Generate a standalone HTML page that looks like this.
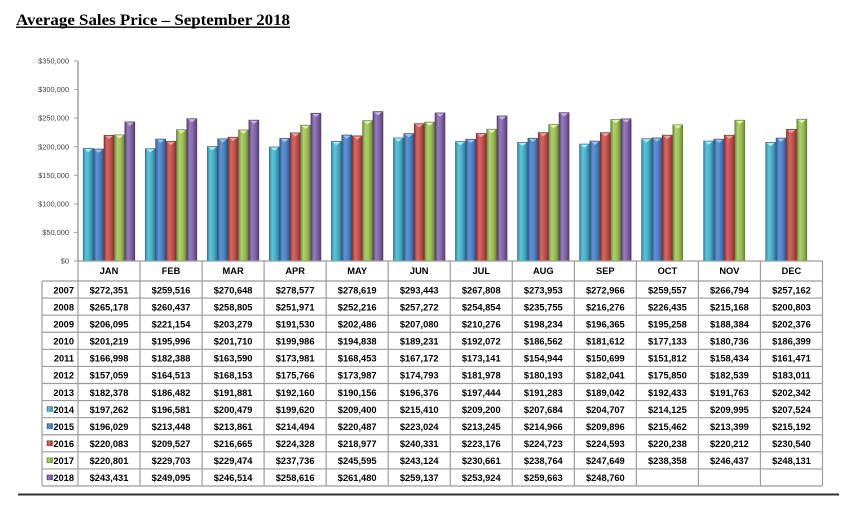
<!DOCTYPE html>
<html><head><meta charset="utf-8"><style>
html,body{margin:0;padding:0;background:#fff;}
svg{display:block;}
</style></head><body>
<svg width="853" height="513" viewBox="0 0 853 513" xmlns="http://www.w3.org/2000/svg">
<defs>
<linearGradient id="gT" x1="0" x2="1" y1="0" y2="0"><stop offset="0" stop-color="#2a8ba3"/><stop offset="0.3" stop-color="#62c2da"/><stop offset="0.65" stop-color="#4BACC6"/><stop offset="1" stop-color="#2b7c92"/></linearGradient>
<linearGradient id="gB" x1="0" x2="1" y1="0" y2="0"><stop offset="0" stop-color="#2f5f96"/><stop offset="0.3" stop-color="#6393d2"/><stop offset="0.65" stop-color="#4F81BD"/><stop offset="1" stop-color="#2e5a8c"/></linearGradient>
<linearGradient id="gR" x1="0" x2="1" y1="0" y2="0"><stop offset="0" stop-color="#8e3532"/><stop offset="0.3" stop-color="#d26a66"/><stop offset="0.65" stop-color="#C0504D"/><stop offset="1" stop-color="#8a3330"/></linearGradient>
<linearGradient id="gG" x1="0" x2="1" y1="0" y2="0"><stop offset="0" stop-color="#6f8c38"/><stop offset="0.3" stop-color="#afcf71"/><stop offset="0.65" stop-color="#9BBB59"/><stop offset="1" stop-color="#6b8634"/></linearGradient>
<linearGradient id="gP" x1="0" x2="1" y1="0" y2="0"><stop offset="0" stop-color="#5a4278"/><stop offset="0.3" stop-color="#977dba"/><stop offset="0.65" stop-color="#8064A2"/><stop offset="1" stop-color="#563f73"/></linearGradient>
<polygon id="cT" points="1,0.6 9,0.6 5,3.8" fill="#a5ecf8"/>
<polygon id="cB" points="1,0.6 9,0.6 5,3.8" fill="#9cc3f0"/>
<polygon id="cR" points="1,0.6 9,0.6 5,3.8" fill="#f0a09c"/>
<polygon id="cG" points="1,0.6 9,0.6 5,3.8" fill="#def5a8"/>
<polygon id="cP" points="1,0.6 9,0.6 5,3.8" fill="#c6b0e6"/>
</defs>

<!-- Title -->
<text x="16" y="25" font-family="Liberation Serif, serif" font-weight="bold" font-size="15.5" textLength="274" lengthAdjust="spacingAndGlyphs" fill="#000">Average Sales Price – September 2018</text>
<line x1="16" y1="27.2" x2="290" y2="27.2" stroke="#000" stroke-width="1.3"/>

<!-- Y axis -->
<line x1="78" y1="61" x2="78" y2="261" stroke="#a0a0a0" stroke-width="1.5"/>
<g stroke="#a0a0a0" stroke-width="1">
<line x1="74" y1="61" x2="78" y2="61"/><line x1="74" y1="89.6" x2="78" y2="89.6"/><line x1="74" y1="118.1" x2="78" y2="118.1"/><line x1="74" y1="146.7" x2="78" y2="146.7"/><line x1="74" y1="175.3" x2="78" y2="175.3"/><line x1="74" y1="203.9" x2="78" y2="203.9"/><line x1="74" y1="232.4" x2="78" y2="232.4"/><line x1="74" y1="261" x2="78" y2="261"/>
</g>
<g font-family="Liberation Sans, sans-serif" font-size="7.4" fill="#404040" text-anchor="end">
<text x="69" y="63.6">$350,000</text>
<text x="69" y="92.2">$300,000</text>
<text x="69" y="120.7">$250,000</text>
<text x="69" y="149.3">$200,000</text>
<text x="69" y="177.9">$150,000</text>
<text x="69" y="206.5">$100,000</text>
<text x="69" y="235">$50,000</text>
<text x="69" y="263.6">$0</text>
</g>

<!-- Bars -->
<g stroke-width="0.6">
<!-- JAN -->
<rect x="83.2" y="148.28" width="10" height="112.72" fill="url(#gT)" stroke="#2a7488"/><use href="#cT" x="83.2" y="148.28"/>
<rect x="93.6" y="148.98" width="10" height="112.02" fill="url(#gB)" stroke="#2a5282"/><use href="#cB" x="93.6" y="148.98"/>
<rect x="104.0" y="135.24" width="10" height="125.76" fill="url(#gR)" stroke="#7a2e2b"/><use href="#cR" x="104.0" y="135.24"/>
<rect x="114.4" y="134.83" width="10" height="126.17" fill="url(#gG)" stroke="#5e7a2e"/><use href="#cG" x="114.4" y="134.83"/>
<rect x="124.8" y="121.9" width="10" height="139.1" fill="url(#gP)" stroke="#4c3766"/><use href="#cP" x="124.8" y="121.9"/>
<!-- FEB -->
<rect x="145.24" y="148.67" width="10" height="112.33" fill="url(#gT)" stroke="#2a7488"/><use href="#cT" x="145.24" y="148.67"/>
<rect x="155.64" y="139.03" width="10" height="121.97" fill="url(#gB)" stroke="#2a5282"/><use href="#cB" x="155.64" y="139.03"/>
<rect x="166.04" y="141.27" width="10" height="119.73" fill="url(#gR)" stroke="#7a2e2b"/><use href="#cR" x="166.04" y="141.27"/>
<rect x="176.44" y="129.74" width="10" height="131.26" fill="url(#gG)" stroke="#5e7a2e"/><use href="#cG" x="176.44" y="129.74"/>
<rect x="186.84" y="118.66" width="10" height="142.34" fill="url(#gP)" stroke="#4c3766"/><use href="#cP" x="186.84" y="118.66"/>
<!-- MAR -->
<rect x="207.28" y="146.44" width="10" height="114.56" fill="url(#gT)" stroke="#2a7488"/><use href="#cT" x="207.28" y="146.44"/>
<rect x="217.68" y="138.79" width="10" height="122.21" fill="url(#gB)" stroke="#2a5282"/><use href="#cB" x="217.68" y="138.79"/>
<rect x="228.08" y="137.19" width="10" height="123.81" fill="url(#gR)" stroke="#7a2e2b"/><use href="#cR" x="228.08" y="137.19"/>
<rect x="238.48" y="129.87" width="10" height="131.13" fill="url(#gG)" stroke="#5e7a2e"/><use href="#cG" x="238.48" y="129.87"/>
<rect x="248.88" y="120.13" width="10" height="140.87" fill="url(#gP)" stroke="#4c3766"/><use href="#cP" x="248.88" y="120.13"/>
<!-- APR -->
<rect x="269.32" y="146.93" width="10" height="114.07" fill="url(#gT)" stroke="#2a7488"/><use href="#cT" x="269.32" y="146.93"/>
<rect x="279.72" y="138.43" width="10" height="122.57" fill="url(#gB)" stroke="#2a5282"/><use href="#cB" x="279.72" y="138.43"/>
<rect x="290.12" y="132.81" width="10" height="128.19" fill="url(#gR)" stroke="#7a2e2b"/><use href="#cR" x="290.12" y="132.81"/>
<rect x="300.52" y="125.15" width="10" height="135.85" fill="url(#gG)" stroke="#5e7a2e"/><use href="#cG" x="300.52" y="125.15"/>
<rect x="310.92" y="113.22" width="10" height="147.78" fill="url(#gP)" stroke="#4c3766"/><use href="#cP" x="310.92" y="113.22"/>
<!-- MAY -->
<rect x="331.36" y="141.34" width="10" height="119.66" fill="url(#gT)" stroke="#2a7488"/><use href="#cT" x="331.36" y="141.34"/>
<rect x="341.76" y="135.01" width="10" height="125.99" fill="url(#gB)" stroke="#2a5282"/><use href="#cB" x="341.76" y="135.01"/>
<rect x="352.16" y="135.87" width="10" height="125.13" fill="url(#gR)" stroke="#7a2e2b"/><use href="#cR" x="352.16" y="135.87"/>
<rect x="362.56" y="120.66" width="10" height="140.34" fill="url(#gG)" stroke="#5e7a2e"/><use href="#cG" x="362.56" y="120.66"/>
<rect x="372.96" y="111.58" width="10" height="149.42" fill="url(#gP)" stroke="#4c3766"/><use href="#cP" x="372.96" y="111.58"/>
<!-- JUN -->
<rect x="393.4" y="137.91" width="10" height="123.09" fill="url(#gT)" stroke="#2a7488"/><use href="#cT" x="393.4" y="137.91"/>
<rect x="403.8" y="133.56" width="10" height="127.44" fill="url(#gB)" stroke="#2a5282"/><use href="#cB" x="403.8" y="133.56"/>
<rect x="414.2" y="123.67" width="10" height="137.33" fill="url(#gR)" stroke="#7a2e2b"/><use href="#cR" x="414.2" y="123.67"/>
<rect x="424.6" y="122.07" width="10" height="138.93" fill="url(#gG)" stroke="#5e7a2e"/><use href="#cG" x="424.6" y="122.07"/>
<rect x="435.0" y="112.92" width="10" height="148.08" fill="url(#gP)" stroke="#4c3766"/><use href="#cP" x="435.0" y="112.92"/>
<!-- JUL -->
<rect x="455.44" y="141.46" width="10" height="119.54" fill="url(#gT)" stroke="#2a7488"/><use href="#cT" x="455.44" y="141.46"/>
<rect x="465.84" y="139.15" width="10" height="121.85" fill="url(#gB)" stroke="#2a5282"/><use href="#cB" x="465.84" y="139.15"/>
<rect x="476.24" y="133.47" width="10" height="127.53" fill="url(#gR)" stroke="#7a2e2b"/><use href="#cR" x="476.24" y="133.47"/>
<rect x="486.64" y="129.19" width="10" height="131.81" fill="url(#gG)" stroke="#5e7a2e"/><use href="#cG" x="486.64" y="129.19"/>
<rect x="497.04" y="115.9" width="10" height="145.1" fill="url(#gP)" stroke="#4c3766"/><use href="#cP" x="497.04" y="115.9"/>
<!-- AUG -->
<rect x="517.48" y="142.32" width="10" height="118.68" fill="url(#gT)" stroke="#2a7488"/><use href="#cT" x="517.48" y="142.32"/>
<rect x="527.88" y="138.16" width="10" height="122.84" fill="url(#gB)" stroke="#2a5282"/><use href="#cB" x="527.88" y="138.16"/>
<rect x="538.28" y="132.59" width="10" height="128.41" fill="url(#gR)" stroke="#7a2e2b"/><use href="#cR" x="538.28" y="132.59"/>
<rect x="548.68" y="124.56" width="10" height="136.44" fill="url(#gG)" stroke="#5e7a2e"/><use href="#cG" x="548.68" y="124.56"/>
<rect x="559.08" y="112.62" width="10" height="148.38" fill="url(#gP)" stroke="#4c3766"/><use href="#cP" x="559.08" y="112.62"/>
<!-- SEP -->
<rect x="579.52" y="144.02" width="10" height="116.98" fill="url(#gT)" stroke="#2a7488"/><use href="#cT" x="579.52" y="144.02"/>
<rect x="589.92" y="141.06" width="10" height="119.94" fill="url(#gB)" stroke="#2a5282"/><use href="#cB" x="589.92" y="141.06"/>
<rect x="600.32" y="132.66" width="10" height="128.34" fill="url(#gR)" stroke="#7a2e2b"/><use href="#cR" x="600.32" y="132.66"/>
<rect x="610.72" y="119.49" width="10" height="141.51" fill="url(#gG)" stroke="#5e7a2e"/><use href="#cG" x="610.72" y="119.49"/>
<rect x="621.12" y="118.85" width="10" height="142.15" fill="url(#gP)" stroke="#4c3766"/><use href="#cP" x="621.12" y="118.85"/>
<!-- OCT -->
<rect x="641.56" y="138.64" width="10" height="122.36" fill="url(#gT)" stroke="#2a7488"/><use href="#cT" x="641.56" y="138.64"/>
<rect x="651.96" y="137.88" width="10" height="123.12" fill="url(#gB)" stroke="#2a5282"/><use href="#cB" x="651.96" y="137.88"/>
<rect x="662.36" y="135.15" width="10" height="125.85" fill="url(#gR)" stroke="#7a2e2b"/><use href="#cR" x="662.36" y="135.15"/>
<rect x="672.76" y="124.8" width="10" height="136.2" fill="url(#gG)" stroke="#5e7a2e"/><use href="#cG" x="672.76" y="124.8"/>
<!-- NOV -->
<rect x="703.6" y="141.0" width="10" height="120.0" fill="url(#gT)" stroke="#2a7488"/><use href="#cT" x="703.6" y="141.0"/>
<rect x="714.0" y="139.06" width="10" height="121.94" fill="url(#gB)" stroke="#2a5282"/><use href="#cB" x="714.0" y="139.06"/>
<rect x="724.4" y="135.16" width="10" height="125.84" fill="url(#gR)" stroke="#7a2e2b"/><use href="#cR" x="724.4" y="135.16"/>
<rect x="734.8" y="120.18" width="10" height="140.82" fill="url(#gG)" stroke="#5e7a2e"/><use href="#cG" x="734.8" y="120.18"/>
<!-- DEC -->
<rect x="765.64" y="142.41" width="10" height="118.59" fill="url(#gT)" stroke="#2a7488"/><use href="#cT" x="765.64" y="142.41"/>
<rect x="776.04" y="138.03" width="10" height="122.97" fill="url(#gB)" stroke="#2a5282"/><use href="#cB" x="776.04" y="138.03"/>
<rect x="786.44" y="129.26" width="10" height="131.74" fill="url(#gR)" stroke="#7a2e2b"/><use href="#cR" x="786.44" y="129.26"/>
<rect x="796.84" y="119.21" width="10" height="141.79" fill="url(#gG)" stroke="#5e7a2e"/><use href="#cG" x="796.84" y="119.21"/>
</g>

<!-- Table grid -->
<g stroke="#9c9c9c" stroke-width="1.2" fill="none">
<line x1="78" y1="261" x2="822.5" y2="261"/>
<line x1="42" y1="281" x2="822.5" y2="281"/>
<line x1="42" y1="298.08" x2="822.5" y2="298.08"/>
<line x1="42" y1="315.17" x2="822.5" y2="315.17"/>
<line x1="42" y1="332.25" x2="822.5" y2="332.25"/>
<line x1="42" y1="349.33" x2="822.5" y2="349.33"/>
<line x1="42" y1="366.42" x2="822.5" y2="366.42"/>
<line x1="42" y1="383.5" x2="822.5" y2="383.5"/>
<line x1="42" y1="400.58" x2="822.5" y2="400.58"/>
<line x1="42" y1="417.67" x2="822.5" y2="417.67"/>
<line x1="42" y1="434.75" x2="822.5" y2="434.75"/>
<line x1="42" y1="451.83" x2="822.5" y2="451.83"/>
<line x1="42" y1="468.92" x2="822.5" y2="468.92"/>
<line x1="42" y1="486" x2="822.5" y2="486"/>
<line x1="42" y1="281" x2="42" y2="486"/>
<line x1="78" y1="261" x2="78" y2="486"/>
<line x1="140.04" y1="261" x2="140.04" y2="486"/>
<line x1="202.08" y1="261" x2="202.08" y2="486"/>
<line x1="264.12" y1="261" x2="264.12" y2="486"/>
<line x1="326.16" y1="261" x2="326.16" y2="486"/>
<line x1="388.2" y1="261" x2="388.2" y2="486"/>
<line x1="450.24" y1="261" x2="450.24" y2="486"/>
<line x1="512.28" y1="261" x2="512.28" y2="486"/>
<line x1="574.32" y1="261" x2="574.32" y2="486"/>
<line x1="636.36" y1="261" x2="636.36" y2="486"/>
<line x1="698.4" y1="261" x2="698.4" y2="486"/>
<line x1="760.44" y1="261" x2="760.44" y2="486"/>
<line x1="822.48" y1="261" x2="822.48" y2="486"/>
</g>

<!-- Legend keys -->
<rect x="47" y="406.5" width="5.5" height="5" fill="url(#gT)" stroke="#2a7488" stroke-width="0.5"/>
<rect x="47" y="423.6" width="5.5" height="5" fill="url(#gB)" stroke="#2a5282" stroke-width="0.5"/>
<rect x="47" y="440.7" width="5.5" height="5" fill="url(#gR)" stroke="#7a2e2b" stroke-width="0.5"/>
<rect x="47" y="457.8" width="5.5" height="5" fill="url(#gG)" stroke="#5e7a2e" stroke-width="0.5"/>
<rect x="47" y="474.9" width="5.5" height="5" fill="url(#gP)" stroke="#4c3766" stroke-width="0.5"/>

<g font-family="Liberation Sans, sans-serif" font-size="9.3" font-weight="bold" fill="#000">
<!-- Header -->
<g text-anchor="middle">
<text x="109.02" y="274.2">JAN</text><text x="171.06" y="274.2">FEB</text><text x="233.1" y="274.2">MAR</text><text x="295.14" y="274.2">APR</text><text x="357.18" y="274.2">MAY</text><text x="419.22" y="274.2">JUN</text><text x="481.26" y="274.2">JUL</text><text x="543.3" y="274.2">AUG</text><text x="605.34" y="274.2">SEP</text><text x="667.38" y="274.2">OCT</text><text x="729.42" y="274.2">NOV</text><text x="791.46" y="274.2">DEC</text>
</g>
<!-- Years -->
<g text-anchor="end">
<text x="74" y="293.3">2007</text><text x="74" y="310.4">2008</text><text x="74" y="327.5">2009</text><text x="74" y="344.5">2010</text><text x="74" y="361.6">2011</text><text x="74" y="378.7">2012</text><text x="74" y="395.8">2013</text><text x="74" y="412.9">2014</text><text x="74" y="429.9">2015</text><text x="74" y="447.0">2016</text><text x="74" y="464.1">2017</text><text x="74" y="481.2">2018</text>
</g>
<g text-anchor="middle">
<!-- 2007 -->
<text x="109.02" y="293.3">$272,351</text><text x="171.06" y="293.3">$259,516</text><text x="233.1" y="293.3">$270,648</text><text x="295.14" y="293.3">$278,577</text><text x="357.18" y="293.3">$278,619</text><text x="419.22" y="293.3">$293,443</text><text x="481.26" y="293.3">$267,808</text><text x="543.3" y="293.3">$273,953</text><text x="605.34" y="293.3">$272,966</text><text x="667.38" y="293.3">$259,557</text><text x="729.42" y="293.3">$266,794</text><text x="791.46" y="293.3">$257,162</text>
<!-- 2008 -->
<text x="109.02" y="310.4">$265,178</text><text x="171.06" y="310.4">$260,437</text><text x="233.1" y="310.4">$258,805</text><text x="295.14" y="310.4">$251,971</text><text x="357.18" y="310.4">$252,216</text><text x="419.22" y="310.4">$257,272</text><text x="481.26" y="310.4">$254,854</text><text x="543.3" y="310.4">$235,755</text><text x="605.34" y="310.4">$216,276</text><text x="667.38" y="310.4">$226,435</text><text x="729.42" y="310.4">$215,168</text><text x="791.46" y="310.4">$200,803</text>
<!-- 2009 -->
<text x="109.02" y="327.5">$206,095</text><text x="171.06" y="327.5">$221,154</text><text x="233.1" y="327.5">$203,279</text><text x="295.14" y="327.5">$191,530</text><text x="357.18" y="327.5">$202,486</text><text x="419.22" y="327.5">$207,080</text><text x="481.26" y="327.5">$210,276</text><text x="543.3" y="327.5">$198,234</text><text x="605.34" y="327.5">$196,365</text><text x="667.38" y="327.5">$195,258</text><text x="729.42" y="327.5">$188,384</text><text x="791.46" y="327.5">$202,376</text>
<!-- 2010 -->
<text x="109.02" y="344.5">$201,219</text><text x="171.06" y="344.5">$195,996</text><text x="233.1" y="344.5">$201,710</text><text x="295.14" y="344.5">$199,986</text><text x="357.18" y="344.5">$194,838</text><text x="419.22" y="344.5">$189,231</text><text x="481.26" y="344.5">$192,072</text><text x="543.3" y="344.5">$186,562</text><text x="605.34" y="344.5">$181,612</text><text x="667.38" y="344.5">$177,133</text><text x="729.42" y="344.5">$180,736</text><text x="791.46" y="344.5">$186,399</text>
<!-- 2011 -->
<text x="109.02" y="361.6">$166,998</text><text x="171.06" y="361.6">$182,388</text><text x="233.1" y="361.6">$163,590</text><text x="295.14" y="361.6">$173,981</text><text x="357.18" y="361.6">$168,453</text><text x="419.22" y="361.6">$167,172</text><text x="481.26" y="361.6">$173,141</text><text x="543.3" y="361.6">$154,944</text><text x="605.34" y="361.6">$150,699</text><text x="667.38" y="361.6">$151,812</text><text x="729.42" y="361.6">$158,434</text><text x="791.46" y="361.6">$161,471</text>
<!-- 2012 -->
<text x="109.02" y="378.7">$157,059</text><text x="171.06" y="378.7">$164,513</text><text x="233.1" y="378.7">$168,153</text><text x="295.14" y="378.7">$175,766</text><text x="357.18" y="378.7">$173,987</text><text x="419.22" y="378.7">$174,793</text><text x="481.26" y="378.7">$181,978</text><text x="543.3" y="378.7">$180,193</text><text x="605.34" y="378.7">$182,041</text><text x="667.38" y="378.7">$175,850</text><text x="729.42" y="378.7">$182,539</text><text x="791.46" y="378.7">$183,011</text>
<!-- 2013 -->
<text x="109.02" y="395.8">$182,378</text><text x="171.06" y="395.8">$186,482</text><text x="233.1" y="395.8">$191,881</text><text x="295.14" y="395.8">$192,160</text><text x="357.18" y="395.8">$190,156</text><text x="419.22" y="395.8">$196,376</text><text x="481.26" y="395.8">$197,444</text><text x="543.3" y="395.8">$191,283</text><text x="605.34" y="395.8">$189,042</text><text x="667.38" y="395.8">$192,433</text><text x="729.42" y="395.8">$191,763</text><text x="791.46" y="395.8">$202,342</text>
<!-- 2014 -->
<text x="109.02" y="412.9">$197,262</text><text x="171.06" y="412.9">$196,581</text><text x="233.1" y="412.9">$200,479</text><text x="295.14" y="412.9">$199,620</text><text x="357.18" y="412.9">$209,400</text><text x="419.22" y="412.9">$215,410</text><text x="481.26" y="412.9">$209,200</text><text x="543.3" y="412.9">$207,684</text><text x="605.34" y="412.9">$204,707</text><text x="667.38" y="412.9">$214,125</text><text x="729.42" y="412.9">$209,995</text><text x="791.46" y="412.9">$207,524</text>
<!-- 2015 -->
<text x="109.02" y="429.9">$196,029</text><text x="171.06" y="429.9">$213,448</text><text x="233.1" y="429.9">$213,861</text><text x="295.14" y="429.9">$214,494</text><text x="357.18" y="429.9">$220,487</text><text x="419.22" y="429.9">$223,024</text><text x="481.26" y="429.9">$213,245</text><text x="543.3" y="429.9">$214,966</text><text x="605.34" y="429.9">$209,896</text><text x="667.38" y="429.9">$215,462</text><text x="729.42" y="429.9">$213,399</text><text x="791.46" y="429.9">$215,192</text>
<!-- 2016 -->
<text x="109.02" y="447.0">$220,083</text><text x="171.06" y="447.0">$209,527</text><text x="233.1" y="447.0">$216,665</text><text x="295.14" y="447.0">$224,328</text><text x="357.18" y="447.0">$218,977</text><text x="419.22" y="447.0">$240,331</text><text x="481.26" y="447.0">$223,176</text><text x="543.3" y="447.0">$224,723</text><text x="605.34" y="447.0">$224,593</text><text x="667.38" y="447.0">$220,238</text><text x="729.42" y="447.0">$220,212</text><text x="791.46" y="447.0">$230,540</text>
<!-- 2017 -->
<text x="109.02" y="464.1">$220,801</text><text x="171.06" y="464.1">$229,703</text><text x="233.1" y="464.1">$229,474</text><text x="295.14" y="464.1">$237,736</text><text x="357.18" y="464.1">$245,595</text><text x="419.22" y="464.1">$243,124</text><text x="481.26" y="464.1">$230,661</text><text x="543.3" y="464.1">$238,764</text><text x="605.34" y="464.1">$247,649</text><text x="667.38" y="464.1">$238,358</text><text x="729.42" y="464.1">$246,437</text><text x="791.46" y="464.1">$248,131</text>
<!-- 2018 -->
<text x="109.02" y="481.2">$243,431</text><text x="171.06" y="481.2">$249,095</text><text x="233.1" y="481.2">$246,514</text><text x="295.14" y="481.2">$258,616</text><text x="357.18" y="481.2">$261,480</text><text x="419.22" y="481.2">$259,137</text><text x="481.26" y="481.2">$253,924</text><text x="543.3" y="481.2">$259,663</text><text x="605.34" y="481.2">$248,760</text>
</g>
</g>

<!-- Bottom rule -->
<line x1="18" y1="494.5" x2="839" y2="494.5" stroke="#333" stroke-width="2"/>
</svg>
</body></html>
